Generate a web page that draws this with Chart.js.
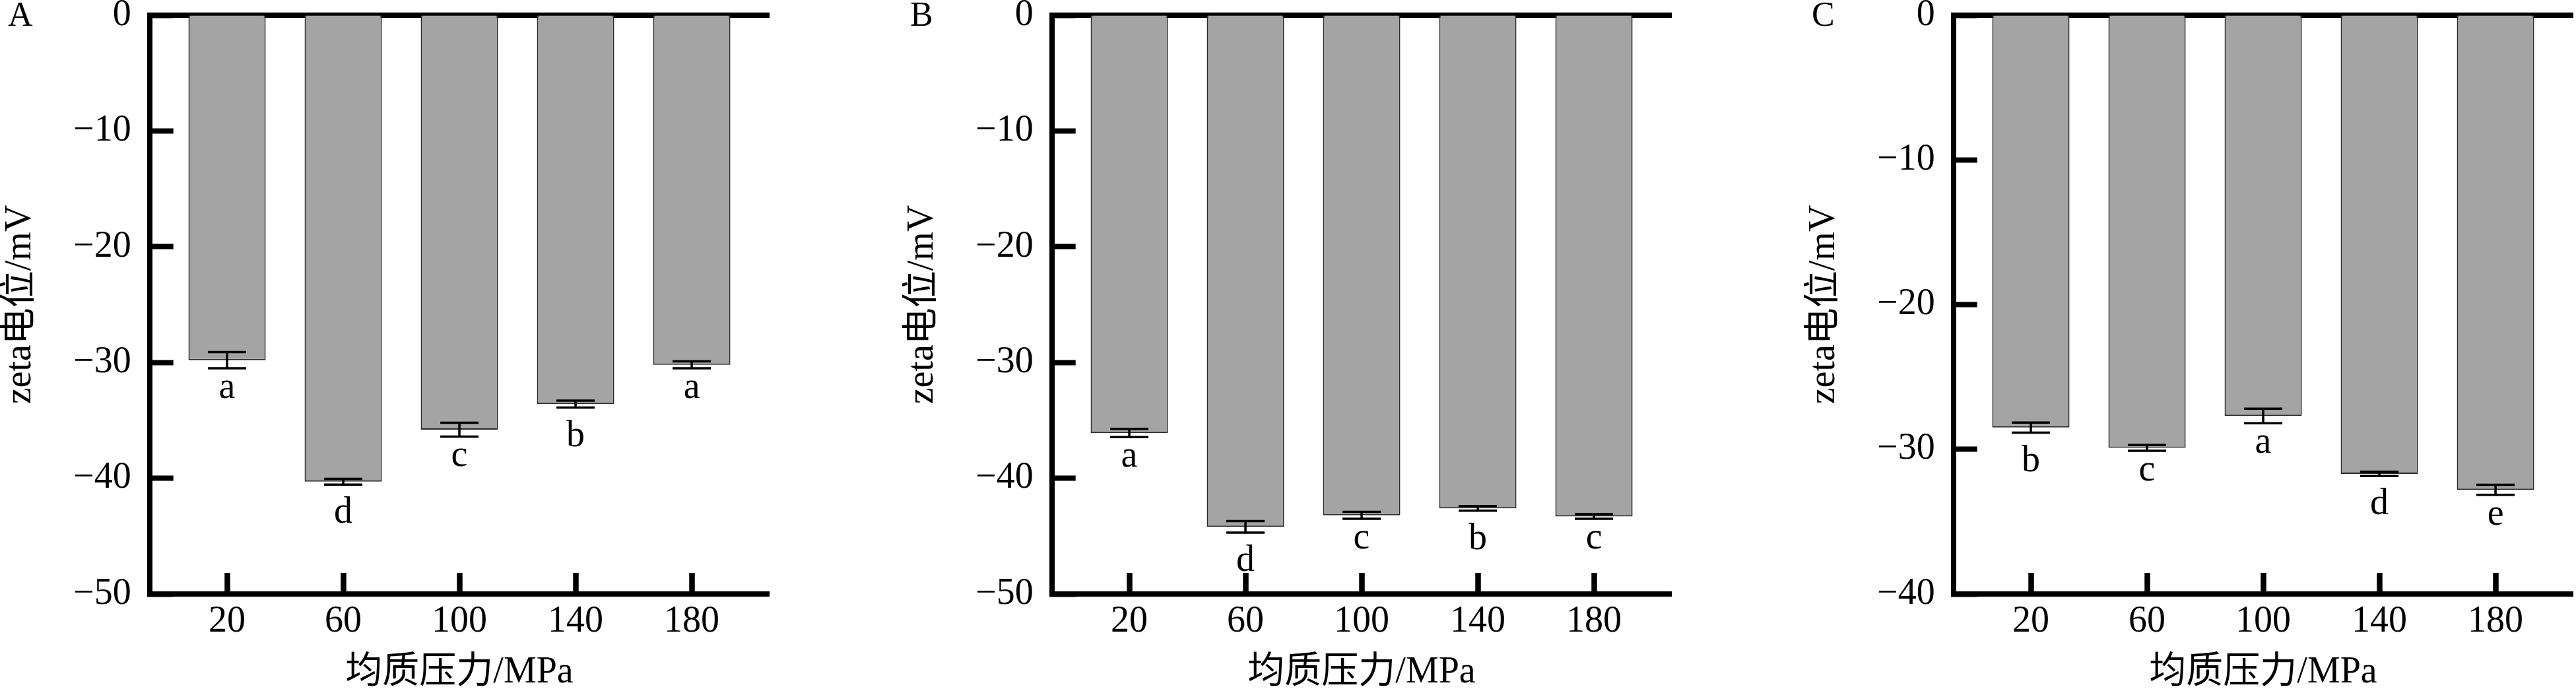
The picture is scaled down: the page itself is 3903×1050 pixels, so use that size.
<!DOCTYPE html>
<html lang="zh">
<head>
<meta charset="utf-8">
<title>zeta电位 - 均质压力</title>
<script src="https://cdn.jsdelivr.net/npm/chart.js@4.4.1/dist/chart.umd.min.js"></script>
<style>
  html, body { margin: 0; padding: 0; background: #fff; overflow: hidden; }
  .panel { position: absolute; top: 0; }
</style>
</head>
<body>
<canvas id="chartA" class="panel" width="1170" height="1050" style="left:0px"></canvas>
<canvas id="chartB" class="panel" width="1170" height="1050" style="left:1367px"></canvas>
<canvas id="chartC" class="panel" width="1170" height="1050" style="left:2733px"></canvas>
<script>
// ==========================================
// 1. DATOS
// ==========================================
const presiones = ['20', '60', '100', '140', '180'];

const zetaA   = [-29.8, -40.3, -35.8, -33.6, -30.2];
const errorA  = [0.7, 0.25, 0.6, 0.3, 0.3];
const letrasA = ['a', 'd', 'c', 'b', 'a'];

const zetaB   = [-36.1, -44.2, -43.2, -42.6, -43.3];
const errorB  = [0.35, 0.5, 0.3, 0.2, 0.2];
const letrasB = ['a', 'd', 'c', 'b', 'c'];

const zetaC   = [-28.5, -29.9, -27.7, -31.7, -32.8];
const errorC  = [0.35, 0.2, 0.5, 0.15, 0.35];
const letrasC = ['b', 'c', 'a', 'd', 'e'];

const ticksYAB = [0, -10, -20, -30, -40, -50];
const ticksYC  = [0, -10, -20, -30, -40];

const tituloX = '均质压力/MPa';
const tituloY = 'zeta电位/mV';

// ==========================================
// 2. ESTILO / LAYOUT
// ==========================================
const FUENTE = "'Liberation Serif', 'Noto Sans CJK SC', serif";
const ANCHO_EJE_Y = 226.7;  // espacio a la izquierda del eje
const ALTO_SUP = 23;        // línea superior (valor 0)
const ALTO_INF = 150;       // espacio bajo el eje X
const ANCHO_CANVAS = 1170;
const FIN_DERECHA = 1165.4;

const pluginBarrasError = {
    id: 'barrasError',
    afterDatasetsDraw(chart, args, opts) {
        const ctx = chart.ctx;
        const escalaY = chart.scales.y;
        const meta = chart.getDatasetMeta(0);
        ctx.save();
        ctx.strokeStyle = '#000';
        ctx.fillStyle = '#000';
        ctx.lineWidth = 3.5;
        ctx.font = `56px ${FUENTE}`;
        ctx.textAlign = 'center';
        ctx.textBaseline = 'alphabetic';
        meta.data.forEach((barra, i) => {
            const v = opts.valores[i];
            const e = opts.errores[i];
            const yAlto = escalaY.getPixelForValue(v + e);
            const yBajo = escalaY.getPixelForValue(v - e);
            const medio = 29;
            ctx.beginPath();
            ctx.moveTo(barra.x, yAlto); ctx.lineTo(barra.x, yBajo);
            ctx.moveTo(barra.x - medio, yAlto); ctx.lineTo(barra.x + medio, yAlto);
            ctx.moveTo(barra.x - medio, yBajo); ctx.lineTo(barra.x + medio, yBajo);
            ctx.stroke();
            // letra de significancia bajo la barra de error
            const m = ctx.measureText(opts.letras[i]);
            ctx.fillText(opts.letras[i], barra.x, yBajo + 18 + m.actualBoundingBoxAscent);
        });
        // letra del panel (A, B, C)
        ctx.font = `52px ${FUENTE}`;
        ctx.textAlign = 'left';
        ctx.fillText(opts.panel, 12, 39);
        ctx.restore();
    }
};

function formatoY(v) {
    return v === 0 ? '0' : '\u2212' + Math.abs(v);
}

// ==========================================
// 3. GRÁFICAS
// ==========================================
function crearPanel(idCanvas, panel, valores, errores, letras, ticksY) {
    const ctx = document.getElementById(idCanvas).getContext('2d');
    const minX = -2 / 3;
    const maxX = presiones.length - 1 + 2 / 3;

    return new Chart(ctx, {
        type: 'bar',
        data: {
            datasets: [{
                data: valores.map((v, i) => ({ x: i, y: v })),
                backgroundColor: '#a4a4a4',
                borderColor: '#2a2a2a',
                borderWidth: 2,
                barPercentage: 0.665,
                categoryPercentage: 1,
                xAxisID: 'x',
                yAxisID: 'y'
            }]
        },
        options: {
            responsive: false,
            devicePixelRatio: 1,
            animation: false,
            events: [],
            layout: { padding: { left: 0, top: 0, bottom: 0, right: ANCHO_CANVAS - FIN_DERECHA } },
            plugins: {
                legend: { display: false },
                tooltip: { enabled: false },
                barrasError: { valores: valores, errores: errores, letras: letras, panel: panel }
            },
            scales: {
                x: {
                    type: 'linear',
                    position: 'bottom',
                    offset: false,
                    min: minX,
                    max: maxX,
                    afterBuildTicks: s => { s.ticks = presiones.map((p, i) => ({ value: i })); },
                    afterFit: s => { s.height = ALTO_INF; s.paddingLeft = 0; s.paddingRight = 0; },
                    ticks: {
                        callback: v => presiones[v],
                        color: '#000',
                        padding: 41,
                        autoSkip: false,
                        maxRotation: 0,
                        font: { size: 56, family: FUENTE }
                    },
                    grid: { offset: false, drawOnChartArea: false, drawTicks: true, tickLength: -32, tickWidth: 8.5, tickColor: '#000' },
                    border: { display: true, width: 8, color: '#000' },
                    title: {
                        display: true,
                        text: tituloX,
                        color: '#000',
                        padding: 0,
                        font: { size: 56, family: FUENTE, lineHeight: 1.1 }
                    }
                },
                xTop: {
                    type: 'linear',
                    position: 'top',
                    offset: false,
                    min: minX,
                    max: maxX,
                    afterFit: s => { s.height = ALTO_SUP; s.paddingLeft = 0; s.paddingRight = 0; },
                    ticks: { display: false },
                    grid: { display: false, drawTicks: false, offset: false },
                    border: { display: true, width: 8, color: '#000' }
                },
                y: {
                    type: 'linear',
                    position: 'left',
                    min: Math.min(...ticksY),
                    max: Math.max(...ticksY),
                    afterBuildTicks: s => { s.ticks = ticksY.map(t => ({ value: t })); },
                    afterFit: s => { s.width = ANCHO_EJE_Y; s.paddingTop = 0; s.paddingBottom = 0; },
                    ticks: {
                        callback: formatoY,
                        color: '#000',
                        padding: 64,
                        autoSkip: false,
                        font: { size: 56, family: FUENTE }
                    },
                    grid: { drawOnChartArea: false, drawTicks: true, tickLength: -36, tickWidth: 8, tickColor: '#000' },
                    border: { display: true, width: 8, color: '#000' },
                    title: {
                        display: true,
                        text: tituloY,
                        color: '#000',
                        padding: 0,
                        font: { size: 56, family: FUENTE, lineHeight: 1.1 }
                    }
                }
            }
        },
        plugins: [pluginBarrasError]
    });
}

document.addEventListener('DOMContentLoaded', () => {
    crearPanel('chartA', 'A', zetaA, errorA, letrasA, ticksYAB);
    crearPanel('chartB', 'B', zetaB, errorB, letrasB, ticksYAB);
    crearPanel('chartC', 'C', zetaC, errorC, letrasC, ticksYC);
});
</script>
</body>
</html>
